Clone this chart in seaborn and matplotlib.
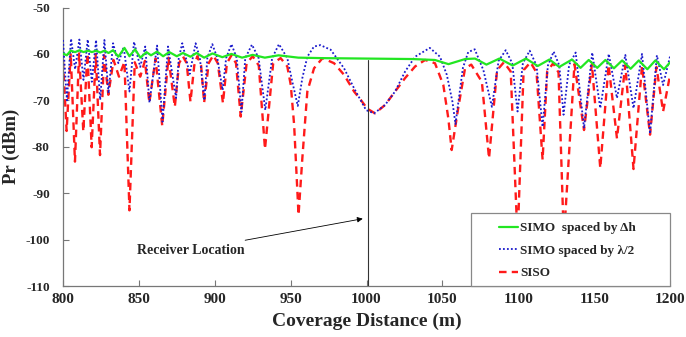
import matplotlib
matplotlib.use("Agg")
import matplotlib.pyplot as plt
from matplotlib.patches import Rectangle
import seaborn as sns
import pandas as pd

# ---------------- data ----------------
siso_x = [800.0, 802.4, 805.1, 807.9, 810.6, 813.4, 816.1, 818.9, 821.6, 824.4,
          827.1, 829.9, 833.3, 836.9, 840.5, 843.8, 847.3, 850.9, 854.0, 856.9,
          861.0, 865.4, 869.5, 873.7, 876.5, 879.0, 881.5, 884.0, 886.5, 888.5,
          891.0, 893.0, 896.0, 899.0, 902.0, 905.4, 908.0, 911.0, 914.0, 917.1,
          921.0, 925.0, 929.0, 933.1, 938.5, 943.4, 947.8, 950.1, 952.3, 955.2,
          957.7, 961.0, 965.4, 971.0, 978.6, 985.2, 991.8, 996.2, 1000.5, 1005.6,
          1012.2, 1018.8, 1025.4, 1032.0, 1038.6, 1045.1, 1050.6, 1053.9, 1056.1, 1060.4,
          1064.9, 1069.0, 1076.0, 1080.7, 1086.0, 1090.5, 1095.0, 1099.5, 1103.5, 1108.0,
          1112.0, 1116.0, 1119.0, 1123.0, 1126.5, 1130.0, 1137.0, 1143.3, 1148.5, 1154.0,
          1159.5, 1165.0, 1170.5, 1175.9, 1181.5, 1186.8, 1191.0, 1195.4, 1200.0]
siso_y = [-61.5, -76.6, -59.9, -83.2, -59.9, -76.7, -59.9, -80.1, -60.0, -81.8,
          -60.3, -68.8, -61.3, -64.9, -61.7, -93.7, -61.8, -64.9, -61.5, -70.5,
          -61.0, -75.5, -60.8, -71.4, -62.0, -60.5, -62.0, -70.3, -62.5, -60.5,
          -62.5, -70.5, -62.0, -60.3, -62.0, -70.6, -62.0, -60.3, -62.0, -73.5,
          -62.0, -60.5, -62.5, -80.5, -62.0, -60.9, -62.7, -66.7, -75.3, -94.7,
          -82.5, -68.1, -63.1, -60.9, -62.0, -64.5, -68.1, -69.9, -71.8, -72.8,
          -71.0, -68.1, -65.2, -62.7, -61.3, -62.0, -66.7, -73.9, -80.7, -71.7,
          -63.1, -62.3, -66.0, -82.5, -63.5, -61.8, -63.8, -100.0, -63.5, -61.8,
          -64.0, -82.8, -63.8, -62.0, -64.0, -100.0, -62.2, -76.4, -62.2, -84.6,
          -62.4, -78.2, -62.4, -84.8, -62.6, -77.4, -62.8, -72.4, -64.5]

simo_half_x = [800.0, 802.6, 805.3, 808.0, 810.8, 813.5, 816.3, 819.0, 821.8, 824.5,
               827.3, 830.0, 833.0, 836.5, 840.0, 843.8, 846.8, 850.9, 854.2, 857.0,
               862.0, 865.6, 869.2, 874.5, 876.3, 878.6, 881.0, 883.5, 887.4, 890.2,
               893.2, 895.1, 898.4, 901.7, 905.2, 907.5, 911.0, 914.5, 917.6, 920.1,
               924.5, 928.9, 933.3, 937.8, 942.3, 947.8, 951.1, 954.7, 957.7, 961.0,
               965.4, 969.6, 976.4, 985.2, 991.8, 999.7, 1005.0, 1012.2, 1018.8, 1025.4,
               1032.0, 1041.7, 1048.4, 1052.9, 1056.6, 1058.6, 1063.5, 1067.0, 1071.3, 1077.0,
               1082.6, 1087.0, 1091.7, 1096.0, 1099.5, 1103.0, 1107.5, 1112.0, 1116.0, 1119.5,
               1123.3, 1127.0, 1129.8, 1133.5, 1137.8, 1143.3, 1148.7, 1154.0, 1159.6, 1165.0,
               1170.5, 1175.9, 1181.5, 1186.8, 1191.3, 1195.4, 1200.0]
simo_half_y = [-57.0, -70.0, -56.7, -63.3, -56.9, -65.6, -56.9, -66.0, -57.0, -69.9,
               -57.0, -68.5, -57.7, -62.0, -58.5, -68.1, -57.4, -62.8, -58.4, -70.5,
               -58.2, -74.6, -58.4, -69.5, -60.9, -57.7, -60.9, -64.3, -57.7, -60.9,
               -70.0, -60.9, -57.9, -60.9, -67.8, -60.9, -57.9, -60.9, -72.5, -60.9,
               -58.0, -60.9, -72.1, -60.9, -57.9, -60.9, -66.0, -71.2, -65.2, -60.6,
               -58.4, -58.1, -59.1, -63.1, -67.4, -72.1, -72.8, -71.0, -68.1, -63.8,
               -60.6, -58.7, -60.6, -64.5, -70.3, -75.1, -63.0, -59.6, -59.0, -63.5,
               -71.4, -61.5, -59.2, -62.0, -72.4, -62.0, -59.3, -62.5, -75.7, -62.5,
               -59.5, -62.5, -73.1, -62.3, -59.7, -76.0, -59.7, -71.7, -60.0, -69.5,
               -60.2, -71.7, -60.0, -77.2, -60.3, -66.7, -60.5]

simo_dh_x = [800.0, 802.5, 805.0, 808.0, 811.0, 813.5, 816.5, 819.0, 822.0, 824.5,
             827.5, 830.0, 833.0, 836.5, 840.5, 843.8, 847.5, 851.0, 855.0, 858.0,
             862.0, 866.0, 870.0, 875.0, 879.0, 884.0, 888.0, 893.0, 898.5, 905.0,
             911.0, 918.0, 925.0, 933.0, 942.0, 955.0, 970.0, 1000.0, 1030.0, 1045.0,
             1054.0, 1065.0, 1071.5, 1079.0, 1087.5, 1096.3, 1105.0, 1112.8, 1120.5, 1127.0,
             1135.4, 1141.0, 1146.4, 1152.0, 1157.4, 1163.0, 1168.4, 1174.0, 1179.4, 1185.0,
             1190.3, 1196.0, 1200.0]
simo_dh_y = [-59.9, -60.3, -59.3, -59.6, -59.2, -59.6, -59.3, -59.6, -59.3, -59.7,
             -59.3, -59.8, -59.2, -60.6, -58.7, -60.5, -59.0, -60.8, -59.6, -60.3,
             -59.5, -60.5, -59.6, -60.5, -59.8, -60.6, -59.8, -60.8, -59.9, -60.7,
             -60.0, -60.8, -60.2, -60.8, -60.3, -60.8, -60.9, -61.0, -61.1, -61.3,
             -62.2, -61.1, -61.0, -62.3, -61.0, -62.5, -61.0, -62.6, -61.2, -62.8,
             -61.2, -63.0, -61.3, -63.0, -61.3, -63.1, -61.4, -63.2, -61.4, -63.3,
             -61.4, -63.3, -61.8]

x_ticks = [800, 850, 900, 950, 1000, 1050, 1100, 1150, 1200]
y_ticks = [-110, -100, -90, -80, -70, -60, -50]
receiver_x = 1001.0
receiver_top = -61.2
labels = ["SIMO  spaced by \u0394h", "SIMO spaced by \u03bb/2", "SISO"]

# ---------------- style ----------------
sns.set_style("ticks")
plt.rcParams["font.family"] = ["Liberation Serif", "DejaVu Serif"]
plt.rcParams["font.weight"] = "bold"
plt.rcParams["axes.unicode_minus"] = False
plt.rcParams["xtick.direction"] = "in"
plt.rcParams["ytick.direction"] = "in"

fig = plt.figure(figsize=(6.86, 3.37), dpi=100)
ax = fig.add_axes([0.0918, 0.1513, 0.885, 0.8264])

df_dh = pd.DataFrame({"x": simo_dh_x, "y": simo_dh_y})
df_half = pd.DataFrame({"x": simo_half_x, "y": simo_half_y})
df_siso = pd.DataFrame({"x": siso_x, "y": siso_y})

sns.lineplot(data=df_siso, x="x", y="y", ax=ax, color="#ff1a1a", linewidth=1.7,
             linestyle=(0, (3.2, 2.2)), estimator=None, sort=False, label=labels[2], zorder=2)
sns.lineplot(data=df_half, x="x", y="y", ax=ax, color="#1a1acc", linewidth=1.3,
             linestyle=(0, (1, 1.2)), estimator=None, sort=False, label=labels[1], zorder=3)
sns.lineplot(data=df_dh, x="x", y="y", ax=ax, color="#22e622", linewidth=1.6,
             linestyle="-", estimator=None, sort=False, label=labels[0], zorder=4)

ax.plot([receiver_x, receiver_x], [-110, receiver_top], color="#333333", linewidth=0.8, zorder=5)
ax.annotate("Receiver Location", xy=(997.5, -95.5), xytext=(848.5, -102.3),
            fontsize=10, fontweight="bold", ha="left", va="center",
            arrowprops=dict(arrowstyle="-|>", color="black", linewidth=0.6,
                            mutation_scale=8, shrinkA=1, shrinkB=0))

ax.set_xlim(800, 1200)
ax.set_ylim(-110, -50)
ax.set_xticks(x_ticks)
ax.set_yticks(y_ticks)
ax.set_xticklabels([str(v) for v in x_ticks], fontsize=11, fontweight="bold")
ax.set_yticklabels([str(v) for v in y_ticks], fontsize=9.5, fontweight="bold")
ax.tick_params(axis="both", length=4, width=0.8, color="#777777")
ax.tick_params(axis="x", pad=5)
ax.tick_params(axis="y", pad=9.5)
for s in ["top", "right"]:
    ax.spines[s].set_visible(False)
for s in ["left", "bottom"]:
    ax.spines[s].set_color("#777777")
    ax.spines[s].set_linewidth(0.9)

ax.set_xlabel("Coverage Distance (m)", fontsize=14, fontweight="bold", labelpad=5)
ax.set_ylabel("Pr (dBm)", fontsize=13.5, fontweight="bold", labelpad=4)

# legend: white box with gray edge, entries placed as in the reference
box = Rectangle((0.672, 0.0), 0.328, 0.262, transform=ax.transAxes,
                facecolor="white", edgecolor="#888888", linewidth=0.9, zorder=9,
                clip_on=False)
ax.add_patch(box)
h, l = ax.get_legend_handles_labels()
order = [2, 1, 0]
leg = ax.legend([h[i] for i in order], [l[i] for i in order],
                loc="center left", bbox_to_anchor=(0.718, 0.127),
                borderaxespad=0, borderpad=0, frameon=False,
                prop={"weight": "bold", "size": 9.5},
                handlelength=1.45, handletextpad=0.15, labelspacing=0.78)
leg.set_zorder(10)

fig.savefig("out.png", dpi=100)
